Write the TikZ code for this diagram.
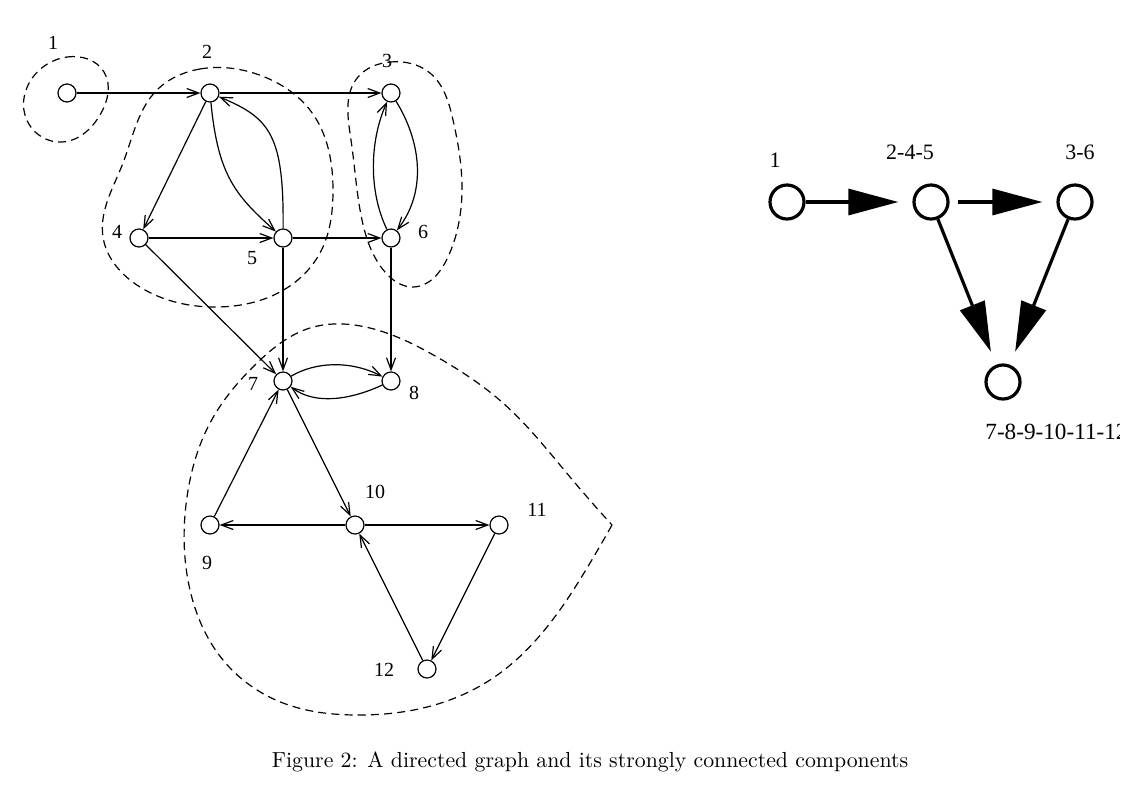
\documentclass[tikz,border=0pt]{standalone}
\usepackage{fontspec}
\newfontfamily\lbl{Liberation Serif}
\usetikzlibrary{arrows.meta,hobby}
\begin{document}
\begin{tikzpicture}[x=0.5pt,y=-0.5pt,
  v/.style={circle,draw,line width=0.6pt,minimum size=9pt,inner sep=0pt},
  lab/.style={font=\lbl\fontsize{10}{12}\selectfont,inner sep=0pt},
  e/.style={line width=0.6pt,-{Straight Barb[length=6pt,width=4.5pt]}},
  comp/.style={line width=0.6pt,dash pattern=on 4pt off 2.6pt},
  bv/.style={circle,draw,line width=1.6pt,minimum size=17pt,inner sep=0pt},
  be/.style={line width=1.6pt,-{Triangle[length=25pt,width=13pt]},shorten >=7pt},
  blab/.style={font=\lbl\fontsize{11}{13}\selectfont,inner sep=0pt}]
\useasboundingbox (0,0) rectangle (1128,788);

% ---- left graph: vertices
\node[v] (n1) at (67,93) {};
\node[v] (n2) at (210,93) {};
\node[v] (n3) at (391,93) {};
\node[v] (n4) at (139,238) {};
\node[v] (n5) at (283,238) {};
\node[v] (n6) at (391,238) {};
\node[v] (n7) at (283,381) {};
\node[v] (n8) at (391,381) {};
\node[v] (n9) at (210,525) {};
\node[v] (n10) at (355,525) {};
\node[v] (n11) at (499,525) {};
\node[v] (n12) at (427,669) {};

% labels
\node[lab] (l1) at (53,43) {1};
\node[lab] (l2) at (207,52) {2};
\node[lab] (l3) at (387,61) {3};
\node[lab] (l4) at (117,232) {4};
\node[lab] (l5) at (252,258) {5};
\node[lab] (l6) at (423,232) {6};
\node[lab] (l7) at (253,384) {7};
\node[lab] (l8) at (414,393) {8};
\node[lab] (l9) at (207,563) {9};
\node[lab] (l10) at (375,492) {10};
\node[lab] (l11) at (537,510) {11};
\node[lab] (l12) at (384,670) {12};

% edges
\draw[e] (n1) -- (n2);
\draw[e] (n2) -- (n3);
\draw[e] (n2) -- (n4);
\draw[e] (n4) -- (n5);
\draw[e] (n5) -- (n6);
\draw[e] (n4) -- (n7);
\draw[e] (n5) -- (n7);
\draw[e] (n6) -- (n8);
\draw[e] (n9) -- (n7);
\draw[e] (n7) -- (n10);
\draw[e] (n10) -- (n9);
\draw[e] (n10) -- (n11);
\draw[e] (n11) -- (n12);
\draw[e] (n12) -- (n10);
\draw[e] (n2) .. controls (218,175) and (235,195) .. (n5);
\draw[e] (n5) .. controls (284,135) and (270,118) .. (n2);
\draw[e] (n3) .. controls (420,140) and (428,190) .. (n6);
\draw[e] (n6) .. controls (368,190) and (370,140) .. (n3);
\draw[e] (n7) .. controls (315,362) and (350,360) .. (n8);
\draw[e] (n8) .. controls (350,400) and (315,405) .. (n7);

% components (dashed)
\draw[comp,use Hobby shortcut,closed=true] (67,57) .. (104,72) .. (100,115) .. (62,142) .. (25,115) .. (33,77);
\draw[comp,use Hobby shortcut,closed=true] (200,69) .. (267,78) .. (310,110) .. (333,193) .. (320,253) .. (280,292) .. (217,307) .. (140,287) .. (103,237) .. (123,163) .. (157,90);
\draw[comp,use Hobby shortcut,closed=true] (390,62) .. (430,73) .. (453,120) .. (462,187) .. (448,257) .. (413,287) .. (385,272) .. (362,220) .. (351,140) .. (358,77);
\draw[comp,use Hobby shortcut] (612,525) .. (590,563) .. (547,627) .. (490,680) .. (423,708) .. (357,715) .. (283,703) .. (223,660) .. (190,590) .. (187,497) .. (210,423) .. (257,363) .. (310,328) .. (370,328) .. (437,357) .. (503,403) .. (570,477) .. (612,525);

% ---- right graph (condensation)
\node[bv] (c1) at (787,202) {};
\node[bv] (c245) at (931,202) {};
\node[bv] (c36) at (1075,202) {};
\node[bv] (c7) at (1003,382) {};
\node[blab] (k1) at (775,160) {1};
\node[blab] (k245) at (910,152) {2-4-5};
\node[blab] (k36) at (1080,152) {3-6};
\begin{scope}
\clip (970,400) rectangle (1119,460);
\node[blab,anchor=west,font=\lbl\fontsize{11.6}{14}\selectfont] (k7) at (985,432) {7-8-9-10-11-12};
\end{scope}
\draw[be] (c1) -- (c245);
\draw[be,shorten <=4pt] (c245) -- (c36);
\draw[be] (c245) -- (c7);
\draw[be] (c36) -- (c7);

% caption
\node[anchor=base,inner sep=0pt,font=\fontsize{10.9}{13}\selectfont] (cap) at (590,767) {Figure 2: A directed graph and its strongly connected components};
\end{tikzpicture}
\end{document}
